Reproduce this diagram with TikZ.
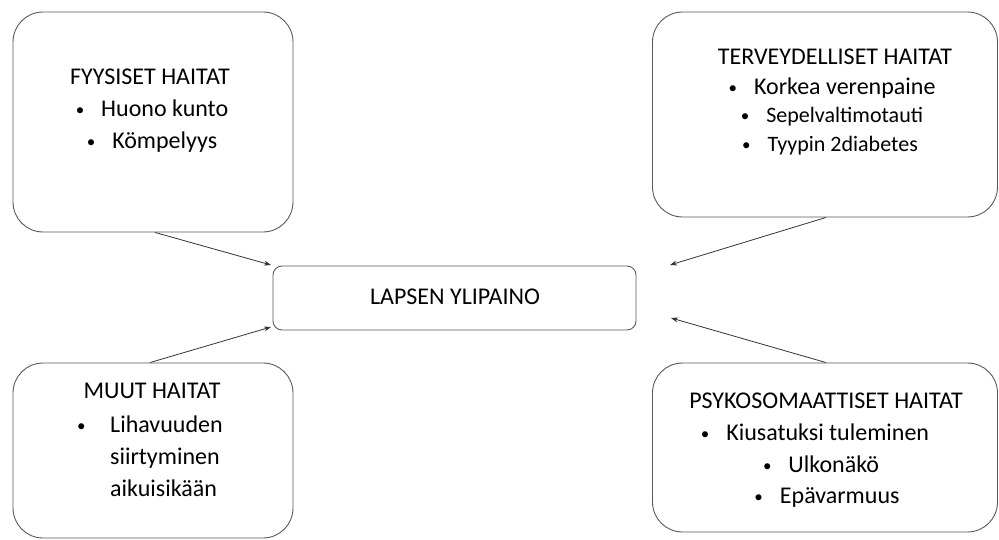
\documentclass[tikz,border=0pt]{standalone}
\usepackage{fontspec}
\setmainfont{Carlito}
\usetikzlibrary{arrows.meta}
\newcommand{\bul}{{\fontsize{17}{17}\selectfont\raisebox{1pt}{•}}}
\begin{document}
\begin{tikzpicture}[x=1pt,y=-1pt,
  box/.style={draw=black!65,line width=0.9pt,rounded corners=30pt,inner sep=0pt},
  cbox/.style={draw=black!65,line width=0.9pt,rounded corners=9pt,inner sep=0pt},
  txt/.style={anchor=base,inner sep=0pt,font=\fontsize{24}{28}\selectfont,text=black},
  stxt/.style={anchor=base,inner sep=0pt,font=\fontsize{22}{26}\selectfont,text=black},
  ltxt/.style={anchor=base west,inner sep=0pt,font=\fontsize{24}{28}\selectfont,text=black},
  arr/.style={-{Stealth[length=7pt,width=5pt]},draw=black!80,line width=0.8pt}]
\useasboundingbox (0,0) rectangle (999,540);
% boxes
\node[box,minimum width=280pt,minimum height=220pt] (tl) at (153,122) {};
\node[box,minimum width=345pt,minimum height=205pt] (tr) at (825,114.5) {};
\node[box,minimum width=280pt,minimum height=175pt] (bl) at (153,450.5) {};
\node[box,minimum width=345pt,minimum height=169pt] (br) at (825,447.5) {};
\node[cbox,minimum width=363pt,minimum height=64pt] (c) at (454.5,298) {};
% center text
\node[txt] (ct) at (455,305) {LAPSEN YLIPAINO};
% top-left text
\node[txt] (tl1) at (150,85) {FYYSISET HAITAT};
\node[txt] (tl2) at (152,117) {\bul\hspace{17pt}Huono kunto};
\node[txt] (tl3) at (152,149) {\bul\hspace{17pt}Kömpelyys};
% top-right text
\node[txt] (tr1) at (835,65) {TERVEYDELLISET HAITAT};
\node[txt] (tr2) at (832,95) {\bul\hspace{17pt}Korkea verenpaine};
\node[stxt] (tr3) at (832,123) {\bul\hspace{17pt}Sepelvaltimotauti};
\node[stxt] (tr4) at (830,152) {\bul\hspace{17pt}Tyypin 2diabetes};
% bottom-left text
\node[txt] (bl1) at (152,398) {MUUT HAITAT};
\node[ltxt] (bl2) at (77,432) {\bul};
\node[ltxt] (bl3) at (110,432) {Lihavuuden};
\node[ltxt] (bl4) at (110,464) {siirtyminen};
\node[ltxt] (bl5) at (110,496) {aikuisikään};
% bottom-right text
\node[txt] (br1) at (826,408) {PSYKOSOMAATTISET HAITAT};
\node[txt] (br2) at (815,440) {\bul\hspace{17pt}Kiusatuksi tuleminen};
\node[txt] (br3) at (821,472) {\bul\hspace{17pt}Ulkonäkö};
\node[txt] (br4) at (827,503) {\bul\hspace{17pt}Epävarmuus};
% arrow ends
\coordinate (e1) at (271,265);
\coordinate (e2) at (271,327);
\coordinate (e3) at (670,265);
\coordinate (e4) at (671,318);
\draw[arr] ([xshift=2pt]tl.south) -- (e1);
\draw[arr] ([xshift=-3pt]bl.north) -- (e2);
\draw[arr] ([xshift=1pt]tr.south) -- (e3);
\draw[arr] ([xshift=1pt]br.north) -- (e4);
\end{tikzpicture}
\end{document}
